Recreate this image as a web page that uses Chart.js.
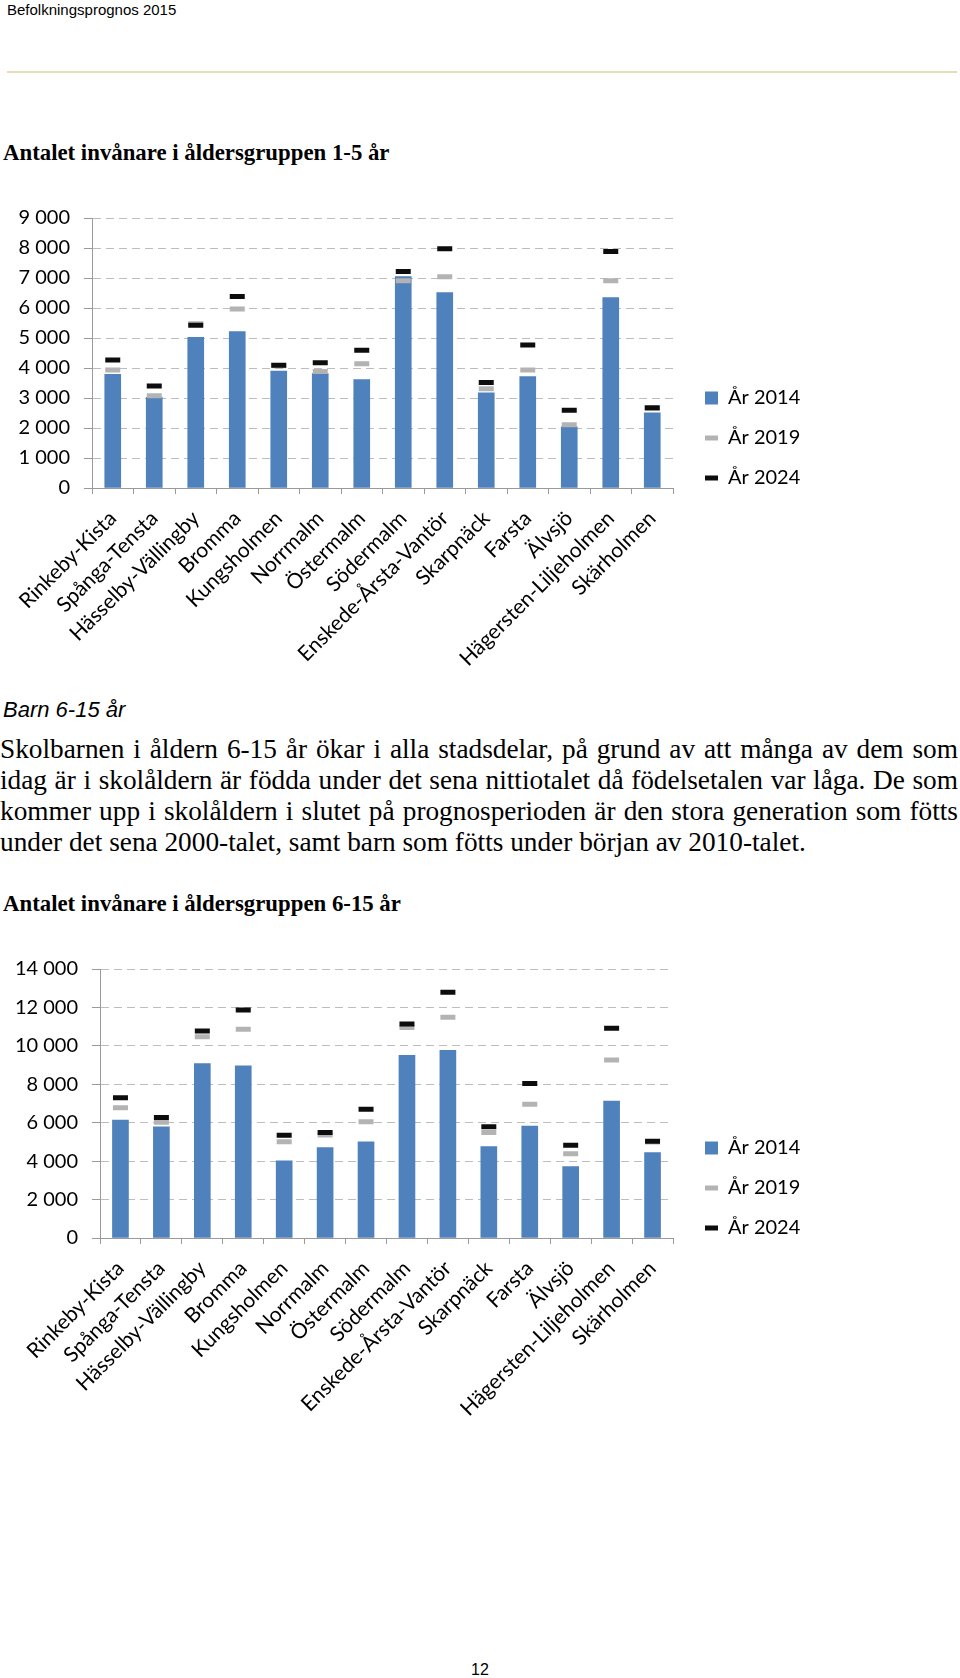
<!DOCTYPE html>
<html>
<head>
<meta charset="utf-8">
<script src="https://cdn.jsdelivr.net/npm/chart.js@4"></script>
<style>
html,body{margin:0;padding:0;background:#fff;}
#page{position:relative;width:960px;height:1678px;overflow:hidden;background:#fff;}
.t{position:absolute;white-space:nowrap;color:#000;margin:0;}
.hdr{left:7px;top:0;font:15px/20px "Liberation Sans",Arial,sans-serif;}
.rule{position:absolute;left:7px;top:71px;width:950px;height:2px;background:#e2deb6;}
.ttl{left:3px;font:bold 22.8px/26px "Liberation Serif","Times New Roman",serif;}
.barn{left:3px;top:697px;font:italic 22px/26px "Liberation Sans",Arial,sans-serif;}
.body{left:0;width:958px;font:27.3px/30px "Liberation Serif","Times New Roman",serif;}
.j{text-align:justify;text-align-last:justify;}
.pg{left:0;width:960px;text-align:center;top:1660px;font:16px/20px "Liberation Sans",Arial,sans-serif;}
canvas{position:absolute;left:0;}
</style>
</head>
<body>
<div id="page">
  <canvas id="c1" width="960" height="500" style="top:190px;width:960px;height:500px;"></canvas>
  <canvas id="c2" width="960" height="500" style="top:940px;width:960px;height:500px;"></canvas>
  <div class="t hdr">Befolkningsprognos 2015</div>
  <div class="rule"></div>
  <div class="t ttl" style="top:140px;">Antalet invånare i åldersgruppen 1-5 år</div>
  <div class="t barn">Barn 6-15 år</div>
  <div class="t body j" style="top:734px;">Skolbarnen i åldern 6-15 år ökar i alla stadsdelar, på grund av att många av dem som</div>
  <div class="t body j" style="top:765px;">idag är i skolåldern är födda under det sena nittiotalet då födelsetalen var låga. De som</div>
  <div class="t body j" style="top:796px;">kommer upp i skolåldern i slutet på prognosperioden är den stora generation som fötts</div>
  <div class="t body" style="top:827px;">under det sena 2000-talet, samt barn som fötts under början av 2010-talet.</div>
  <div class="t ttl" style="top:891px;">Antalet invånare i åldersgruppen 6-15 år</div>
  <div class="t pg">12</div>
</div>
<script>
// ---- data ----
const districts = ['Rinkeby-Kista','Spånga-Tensta','Hässelby-Vällingby','Bromma','Kungsholmen','Norrmalm','Östermalm','Södermalm','Enskede-Årsta-Vantör','Skarpnäck','Farsta','Älvsjö','Hägersten-Liljeholmen','Skärholmen'];
const seriesNames = ['År 2014','År 2019','År 2024'];

const age1to5_2014 = [3790, 3020, 5025, 5213, 3900, 3810, 3610, 7050, 6515, 3175, 3710, 2040, 6350, 2505];
const age1to5_2019 = [3930, 3075, 5475, 5970, 4075, 3880, 4145, 6905, 7040, 3310, 3930, 2105, 6905, 2650];
const age1to5_2024 = [4265, 3400, 5425, 6380, 4090, 4175, 4590, 7215, 7975, 3520, 4770, 2595, 7885, 2675];
const yTicks1 = ['0','1 000','2 000','3 000','4 000','5 000','6 000','7 000','8 000','9 000'];

const age6to15_2014 = [6140, 5780, 9075, 8955, 4010, 4705, 5000, 9510, 9770, 4755, 5830, 3715, 7130, 4440];
const age6to15_2019 = [6785, 6020, 10480, 10865, 5015, 5360, 6055, 10950, 11485, 5485, 6960, 4390, 9265, 5000];
const age6to15_2024 = [7305, 6265, 10775, 11870, 5345, 5485, 6700, 11140, 12785, 5795, 8040, 4825, 10915, 5030];
const yTicks2 = ['0','2 000','4 000','6 000','8 000','10 000','12 000','14 000'];

// ---- styling ----
Chart.defaults.font.family = 'Lato, "Open Sans", sans-serif';
Chart.defaults.color = '#000';
const BLUE = '#4f81bd', GRAY = '#b3b3b3', BLACK = '#0d0d0d';
const AXIS = '#9a9a9a', GRID = '#bdbdbd';

function legendFix(width, dx, dy) {
  return {
    id: 'legendFix',
    beforeLayout(chart) {
      const lg = chart.legend;
      if (lg && !lg.__fixed) {
        const fit = lg.fit;
        lg.fit = function () { fit.call(this); this.width = width; };
        lg.__fixed = true;
      }
    },
    afterLayout(chart) {
      const lg = chart.legend;
      if (lg) { lg.left += dx; lg.right += dx; lg.top += dy; lg.bottom += dy; }
    }
  };
}

function makeChart(id, a, b, c, yMax, yStep, yTicks, cfg) {
  const marker = (label, data, color, order) => ({
    type: 'line', label, data, order,
    showLine: false,
    pointStyle: 'line',
    pointRadius: 7.5, pointHoverRadius: 7.5,
    pointBorderWidth: 5, pointHoverBorderWidth: 5,
    pointBorderColor: color, pointBackgroundColor: color,
    borderColor: color, backgroundColor: color, borderWidth: 5
  });
  return new Chart(document.getElementById(id), {
    type: 'bar',
    data: {
      labels: districts,
      datasets: [
        { label: seriesNames[0], data: a, backgroundColor: BLUE, borderWidth: 0, barThickness: 16, pointStyle: 'rect', order: 3 },
        marker(seriesNames[1], b, GRAY, 2),
        marker(seriesNames[2], c, BLACK, 1)
      ]
    },
    options: {
      responsive: false,
      animation: false,
      events: [],
      layout: { padding: { top: cfg.padTop, bottom: 0, left: 0, right: 0 } },
      plugins: {
        tooltip: { enabled: false },
        legend: {
          position: 'right',
          align: 'center',
          labels: {
            usePointStyle: true,
            boxWidth: 13, boxHeight: 13, pointStyleWidth: 13,
            padding: 20,
            font: { size: 20 },
            color: '#000',
            sort: (x, y) => x.datasetIndex - y.datasetIndex
          }
        }
      },
      scales: {
        x: {
          offset: true,
          grid: { display: true, drawOnChartArea: false, drawTicks: true, tickLength: 6, color: AXIS, tickColor: AXIS, offset: true },
          border: { display: true, color: AXIS, width: 1 },
          ticks: { autoSkip: false, maxRotation: 45, minRotation: 45, padding: 12, font: { size: 21 }, color: '#000' },
          afterFit: (s) => { s.height = cfg.xHeight; }
        },
        y: {
          min: 0, max: yMax,
          ticks: { stepSize: yStep, padding: 14, font: { size: 20 }, color: '#000',
                   callback: (v, i) => yTicks[i] },
          grid: { color: GRID, lineWidth: 1, drawTicks: true, tickLength: 8, tickColor: AXIS, tickBorderDash: [] },
          border: { display: true, color: AXIS, width: 1, dash: [8, 5] },
          afterFit: (s) => { s.width = cfg.yWidth; }
        }
      }
    },
    plugins: [legendFix(287, 12, cfg.legendDy)]
  });
}

makeChart('c1', age1to5_2014, age1to5_2019, age1to5_2024, 9000, 1000, yTicks1,
  { padTop: 28, xHeight: 202, yWidth: 92, legendDy: -16 });
makeChart('c2', age6to15_2014, age6to15_2019, age6to15_2024, 14000, 2000, yTicks2,
  { padTop: 29, xHeight: 202, yWidth: 100, legendDy: -16.5 });
</script>
</body>
</html>
